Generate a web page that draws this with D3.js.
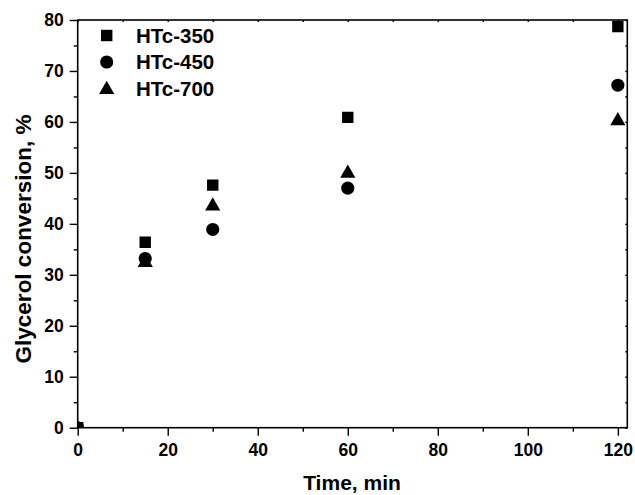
<!DOCTYPE html>
<html>
<head>
<meta charset="utf-8">
<script src="https://cdn.jsdelivr.net/npm/d3@7/dist/d3.min.js"></script>
<style>
  html, body { margin: 0; padding: 0; background: #fff; }
  svg { display: block; font-family: "Liberation Sans", Arial, sans-serif; font-weight: bold; }
</style>
</head>
<body>
<svg id="chart" width="635" height="495"></svg>
<script>
// Reaction time (min)
const times = [0, 15, 30, 60, 120];
// Glycerol conversion (%) per catalyst
const htc350 = [0, 36.4, 47.6, 60.9, 78.7];
const htc450 = [0, 33.2, 38.9, 47.0, 67.2];
const htc700 = [0, 32.6, 43.7, 50.1, 60.4];
const seriesNames = ["HTc-350", "HTc-450", "HTc-700"];
const xTicks = [0, 20, 40, 60, 80, 100, 120];
const yTicks = [0, 10, 20, 30, 40, 50, 60, 70, 80];

const svg = d3.select("#chart");
const plotL = 77.7, plotR = 627.3, plotT = 20, plotB = 427.7;

const x = d3.scaleLinear().domain([0, 122.1]).range([plotL, plotR]);
const y = d3.scaleLinear().domain([0, 80]).range([plotB, plotT]);

const shapes = [d3.symbolSquare, d3.symbolCircle, d3.symbolTriangle];
const sizes = [130, 135, 100];
const series = [htc350, htc450, htc700];

svg.append("clipPath").attr("id", "plot-clip")
  .append("rect").attr("x", plotL).attr("y", plotT)
  .attr("width", plotR - plotL).attr("height", plotB - plotT);

// data markers
const marks = svg.append("g").attr("clip-path", "url(#plot-clip)");
series.forEach((vals, i) => {
  const sym = d3.symbol().type(shapes[i]).size(sizes[i]);
  marks.selectAll(null).data(times.map((t, j) => [t, vals[j]]))
    .enter().append("path")
    .attr("d", sym)
    .attr("transform", d => `translate(${x(d[0])},${y(d[1]) + (i === 2 ? 1 : 0)})`)
    .attr("fill", "#000");
});

// axes
const fontSize = 17.5;
const xAxis = d3.axisBottom(x).tickValues(xTicks).tickSize(8).tickPadding(8).tickFormat(d3.format("d"));
const xMinor = d3.axisBottom(x).tickValues(d3.range(10, 121, 20)).tickSize(4).tickFormat("");
const yAxis = d3.axisLeft(y).tickValues(yTicks).tickSize(8).tickPadding(6).tickFormat(d3.format("d"));
const yMinor = d3.axisLeft(y).tickValues(d3.range(5, 80, 10)).tickSize(4).tickFormat("");
const xTop = d3.axisBottom(x).tickValues(d3.range(0, 121, 10)).tickSize(2).tickFormat("");
const yRight = d3.axisRight(y).tickValues(d3.range(0, 81, 5)).tickSize(-2).tickFormat("");

function style(g) {
  g.selectAll(".domain").remove();
  g.selectAll("line").attr("stroke", "#000").attr("stroke-width", 1.4);
  g.selectAll("text").attr("font-size", fontSize).attr("font-weight", "bold")
    .attr("fill", "#000").attr("font-family", "'Liberation Sans', Arial, sans-serif");
}

svg.append("g").attr("transform", `translate(0,${plotB})`).call(xAxis).call(style);
svg.append("g").attr("transform", `translate(0,${plotB})`).call(xMinor).call(style);
svg.append("g").attr("transform", `translate(${plotL},0)`).call(yAxis).call(style);
svg.append("g").attr("transform", `translate(${plotL},0)`).call(yMinor).call(style);
svg.append("g").attr("transform", `translate(0,${plotT})`).call(xTop).call(style);
svg.append("g").attr("transform", `translate(${plotR},0)`).call(yRight).call(style);

// frame
svg.append("rect").attr("x", plotL).attr("y", plotT)
  .attr("width", plotR - plotL).attr("height", plotB - plotT)
  .attr("fill", "none").attr("stroke", "#000").attr("stroke-width", 1.6);

// axis titles
svg.append("text").attr("x", 352).attr("y", 490)
  .attr("text-anchor", "middle").attr("font-size", 21).text("Time, min");
svg.append("text")
  .attr("transform", "translate(30.5,239) rotate(-90)")
  .attr("text-anchor", "middle").attr("font-size", 22.5).text("Glycerol conversion, %");

// legend
const legend = svg.append("g");
seriesNames.forEach((name, i) => {
  const cy = 35.5 + i * 26.5;
  legend.append("path")
    .attr("d", d3.symbol().type(shapes[i]).size(sizes[i])())
    .attr("transform", `translate(106.7,${cy + (i === 2 ? 1 : 0)})`)
    .attr("fill", "#000");
  legend.append("text").attr("x", 136).attr("y", cy + 7.4)
    .attr("font-size", 20.5).text(name);
});
</script>
</body>
</html>
